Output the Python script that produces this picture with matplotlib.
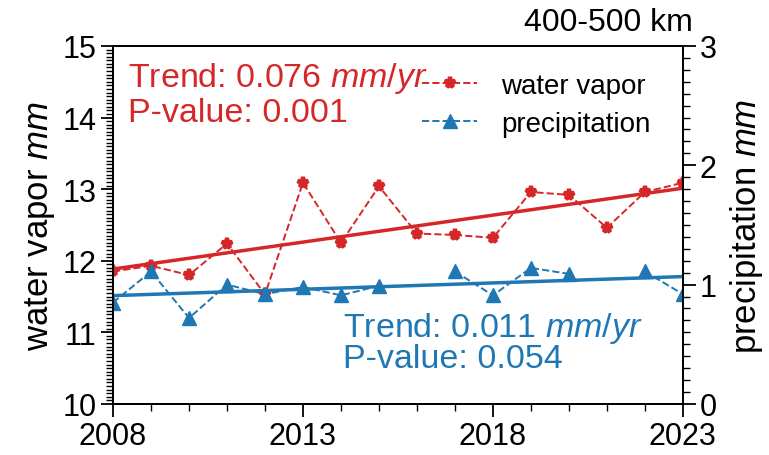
import numpy as np
import matplotlib
matplotlib.use("Agg")
from matplotlib import pyplot as plt
from matplotlib.ticker import MultipleLocator

plt.rcParams['font.family'] = ['Liberation Sans', 'DejaVu Sans']
plt.rcParams['mathtext.fontset'] = 'custom'
plt.rcParams['mathtext.it'] = 'Liberation Sans:italic'
plt.rcParams['mathtext.rm'] = 'Liberation Sans'

years = np.arange(2008, 2024)
vapor = [11.85, 11.93, 11.80, 12.24, 11.53, 13.09, 12.25, 13.04,
         12.38, 12.36, 12.32, 12.96, 12.92, 12.46, 12.96, 13.09]
precip = [0.85, 1.11, 0.72, 1.00, 0.92, 0.98, 0.91, 0.99,
          np.nan, 1.11, 0.91, 1.14, 1.09, np.nan, 1.11, 0.92]
vapor_trend = "Trend: 0.076 $mm/yr$"
vapor_p = "P-value: 0.001"
precip_trend = "Trend: 0.011 $mm/yr$"
precip_p = "P-value: 0.054"

red = '#d62728'
blue = '#1f77b4'

fig = plt.figure(figsize=(7.69, 4.56), dpi=100)
ax = fig.add_axes([0.147, 0.112, 0.741, 0.785])
ax2 = ax.twinx()

# water vapor
v = np.array(vapor)
l1, = ax.plot(years, v, '--', color=red, lw=1.4, marker='*', ms=8,
              mew=3, label='water vapor')
k = np.polyfit(years, v, 1)
ax.plot(years, np.polyval(k, years), '-', color=red, lw=2.5)

# precipitation
p = np.array(precip)
l2, = ax2.plot(years, p, '--', color=blue, lw=1.4, marker='^', ms=10,
               label='precipitation')
ok = ~np.isnan(p)
k2 = np.polyfit(years[ok], p[ok], 1)
ax2.plot(years, np.polyval(k2, years), '-', color=blue, lw=2.5)

ax.set_xlim(2008, 2023)
ax.set_ylim(10, 15)
ax2.set_ylim(0, 3)
ax.set_xticks([2008, 2013, 2018, 2023])
ax.xaxis.set_minor_locator(MultipleLocator(1))
ax.yaxis.set_major_locator(MultipleLocator(1))
ax.yaxis.set_minor_locator(MultipleLocator(0.05))
ax2.yaxis.set_major_locator(MultipleLocator(1))
ax2.yaxis.set_minor_locator(MultipleLocator(0.1))

for a in (ax, ax2):
    a.tick_params(which='major', length=9, width=1.3, labelsize=22, pad=3)
    a.tick_params(which='minor', length=5, width=1.0)
    for s in a.spines.values():
        s.set_linewidth(1.3)

ax.set_ylabel('water vapor $mm$', fontsize=25, labelpad=4)
ax2.set_ylabel('precipitation $mm$', fontsize=25, labelpad=8)

ax.text(0.026, 0.888, vapor_trend, transform=ax.transAxes, color=red,
        fontsize=24.5, va='baseline', ha='left')
ax.text(0.026, 0.790, vapor_p, transform=ax.transAxes, color=red,
        fontsize=24.5, va='baseline', ha='left')
ax2.text(0.4035, 0.19, precip_trend, transform=ax.transAxes, color=blue,
         fontsize=24.5, va='baseline', ha='left')
ax2.text(0.4035, 0.103, precip_p, transform=ax.transAxes, color=blue,
         fontsize=24.5, va='baseline', ha='left')

ax.text(1.018, 1.025, '400-500 km', transform=ax.transAxes, fontsize=23,
        ha='right', va='bottom')

ax2.legend([l1, l2], ['water vapor', 'precipitation'], loc='upper left',
           bbox_to_anchor=(0.542, 0.925), frameon=False, fontsize=20,
           handlelength=2.0, handletextpad=0.86, labelspacing=0.44,
           borderpad=0, borderaxespad=0)

fig.savefig('out.png', dpi=100)
